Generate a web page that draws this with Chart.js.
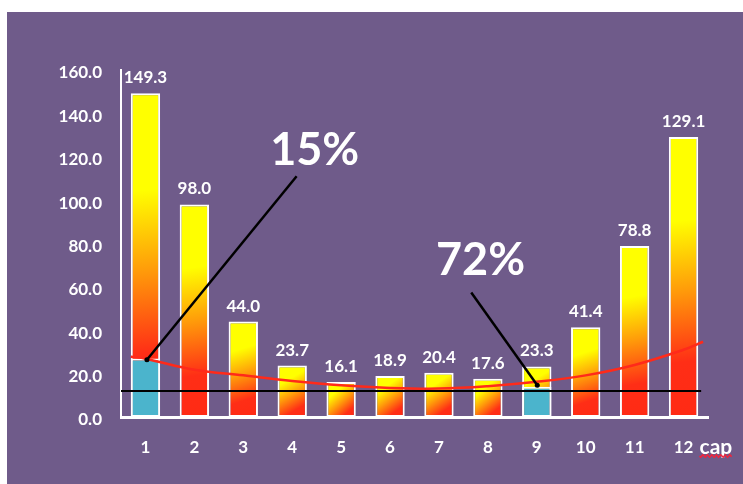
<!DOCTYPE html>
<html>
<head>
<meta charset="utf-8">
<script src="https://cdn.jsdelivr.net/npm/chart.js@4"></script>
<style>
  html, body { margin: 0; padding: 0; background: #fff; }
  body { width: 743px; height: 484px; overflow: hidden; position: relative; }
  #panel { position: absolute; left: 7px; top: 12px; width: 736px; height: 472px; background: #6f5b8a; }
</style>
</head>
<body>
<div id="panel"><canvas id="rainChart" width="736" height="472"></canvas></div>
<script>
// monthly values
const months = ["1", "2", "3", "4", "5", "6", "7", "8", "9", "10", "11", "12"];
const rainfall = [149.3, 98.0, 44.0, 23.7, 16.1, 18.9, 20.4, 17.6, 23.3, 41.4, 78.8, 129.1];
// lower (blue) part of months 1 and 9
const baseFlow = [27, null, null, null, null, null, null, null, 14, null, null, null];

// trend curve, x in month units
const trendX = [0.7, 1, 2, 3, 4, 5, 6, 7, 8, 9, 10, 11, 12, 12.4];
const trendY = [27.8, 26.9, 21.8, 19.2, 16.6, 14.6, 13.4, 13.1, 14.2, 16.2, 19.2, 24.0, 31.0, 34.7];

// horizontal reference level
const threshold = 12;
const yMax = 160;
const yStep = 20;

// callout labels: text, anchor of text, line start, line end (month, value)
const calloutText = ["15%", "72%"];
const calloutAt = [[4.46, 123], [7.85, 72]];
const calloutFrom = [[4.09, 111], [7.66, 57.4]];
const calloutTo = [[1.03, 26.4], [9.01, 14.6]];

const FONT = "Lato, 'Open Sans', sans-serif";

// yellow -> red per bar, running diagonally
function barGradient(ctx) {
  const chart = ctx.chart;
  if (!chart.chartArea) return "#ffff00";
  const x = chart.scales.x.getPixelForValue(ctx.dataIndex);
  const top = chart.scales.y.getPixelForValue(ctx.raw);
  const bottom = chart.scales.y.getPixelForValue(0);
  const g = chart.ctx.createLinearGradient(x - 15, top, x + 15, bottom);
  g.addColorStop(0, "#ffff00");
  g.addColorStop(0.3, "#ffff00");
  g.addColorStop(0.55, "#ff9a0a");
  g.addColorStop(0.8, "#ff2e16");
  g.addColorStop(1, "#ff2a14");
  return g;
}

// value labels above bars
const valueLabels = {
  id: "valueLabels",
  afterDatasetsDraw(chart) {
    const c = chart.ctx;
    const meta = chart.getDatasetMeta(1);
    c.save();
    c.fillStyle = "#ffffff";
    c.font = "bold 17px " + FONT;
    c.textAlign = "center";
    c.textBaseline = "bottom";
    meta.data.forEach((bar, i) => {
      c.fillText(rainfall[i].toFixed(1), bar.x, bar.y - 7);
    });
    c.restore();
  }
};

// big percentage callouts with pointer lines, plus the axis unit
const callouts = {
  id: "callouts",
  afterDraw(chart) {
    const c = chart.ctx;
    const xs = chart.scales.xt;
    const ys = chart.scales.y;
    const px = (p) => [xs.getPixelForValue(p[0]), ys.getPixelForValue(p[1])];
    c.save();
    calloutText.forEach((txt, i) => {
      const a = px(calloutFrom[i]);
      const b = px(calloutTo[i]);
      c.strokeStyle = "#000000";
      c.lineWidth = 2.5;
      c.beginPath();
      c.moveTo(a[0], a[1]);
      c.lineTo(b[0], b[1]);
      c.stroke();
      c.fillStyle = "#000000";
      c.beginPath();
      c.arc(b[0], b[1], 2.5, 0, Math.PI * 2);
      c.fill();

      const t = px(calloutAt[i]);
      c.fillStyle = "#ffffff";
      c.font = "bold 45px " + FONT;
      c.textAlign = "center";
      c.textBaseline = "middle";
      c.fillText(txt, t[0], t[1]);
    });

    // "cap" after the last month label
    const xScale = chart.scales.x;
    const lx = xScale.getPixelForValue(months.length - 1) + 16;
    const ly = xScale.bottom - 37;
    c.font = "bold 21px " + FONT;
    c.textAlign = "left";
    c.textBaseline = "middle";
    c.fillStyle = "#ffffff";
    c.fillText("cap", lx, ly);
    const w = c.measureText("cap").width;
    // spell-check squiggle
    c.strokeStyle = "#f0243c";
    c.lineWidth = 1.5;
    c.beginPath();
    for (let x = 0; x <= w; x += 1) {
      const y = ly + 9 + Math.sin(x * 1.4) * 1.3;
      if (x === 0) c.moveTo(lx + x, y); else c.lineTo(lx + x, y);
    }
    c.stroke();
    c.restore();
  }
};

new Chart(document.getElementById("rainChart"), {
  type: "bar",
  data: {
    labels: months,
    datasets: [
      {
        type: "line",
        xAxisID: "xt",
        data: trendX.map((x, i) => ({ x: x, y: trendY[i] })),
        borderColor: "#ff2a1a",
        borderWidth: 2.5,
        tension: 0.4,
        pointRadius: 0,
        order: 0
      },
      {
        data: rainfall,
        backgroundColor: barGradient,
        borderColor: "#ffffff",
        borderWidth: 2,
        borderSkipped: false,
        grouped: false,
        barPercentage: 0.6,
        categoryPercentage: 1,
        order: 3
      },
      {
        data: baseFlow,
        backgroundColor: "#4bb4cc",
        borderColor: "#ffffff",
        borderWidth: 2,
        borderSkipped: false,
        grouped: false,
        barPercentage: 0.6,
        categoryPercentage: 1,
        order: 2
      },
      {
        type: "line",
        xAxisID: "xt",
        data: [{ x: 0.5, y: threshold }, { x: 12.36, y: threshold }],
        borderColor: "#000000",
        borderWidth: 2,
        pointRadius: 0,
        order: 1
      }
    ]
  },
  options: {
    responsive: false,
    animation: false,
    layout: { padding: { top: 58, right: 35, bottom: 0, left: 0 } },
    plugins: {
      legend: { display: false },
      tooltip: { enabled: false }
    },
    scales: {
      x: {
        offset: true,
        grid: { display: false },
        border: { display: true, color: "#ffffff", width: 3 },
        ticks: { color: "#ffffff", font: { family: FONT, size: 17, weight: "bold" }, padding: 12, maxRotation: 0 },
        afterFit(scale) { scale.height = 67; }
      },
      xt: {
        type: "linear",
        display: false,
        offset: false,
        min: 0.5,
        max: 12.5
      },
      y: {
        min: 0,
        max: yMax,
        grid: { display: false },
        border: { display: true, color: "#ffffff", width: 2 },
        ticks: {
          stepSize: yStep,
          color: "#ffffff",
          font: { family: FONT, size: 17, weight: "bold" },
          padding: 11,
          labelOffset: 3,
          callback: (v) => v.toFixed(1)
        },
        afterFit(scale) { scale.width = 114; }
      }
    }
  },
  plugins: [valueLabels, callouts]
});
</script>
</body>
</html>
